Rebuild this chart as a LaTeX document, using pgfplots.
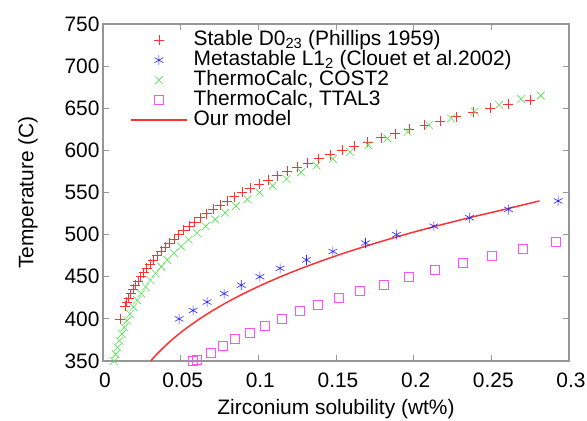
\documentclass[border=0pt]{standalone}
\usepackage{fontspec}
\setmainfont{Liberation Sans}
\usepackage{pgfplots}
\pgfplotsset{compat=1.18}
\definecolor{gpred}{RGB}{255,50,50}
\definecolor{gpblue}{RGB}{40,40,255}
\definecolor{gpgreen}{RGB}{80,225,80}
\definecolor{gpmag}{RGB}{255,80,255}
\definecolor{framegray}{RGB}{150,150,150}

\begin{document}
\begin{tikzpicture}
\useasboundingbox (-103bp,-60bp) rectangle (484bp,361bp);
\begin{axis}[
  at={(0,0)}, anchor=south west,
  scale only axis, width=466bp, height=337bp,
  xmin=0, xmax=0.3, ymin=350, ymax=750,
  xtick={0,0.05,0.1,0.15,0.2,0.25,0.3},
  xticklabels={0,0.05,0.1,0.15,0.2,0.25,0.3},
  ytick={350,400,450,500,550,600,650,700,750},
  tick align=inside,
  axis line style={framegray, line width=1.2pt},
  tick style={framegray, line width=0.8pt},
  major tick length=6bp,
  font=\fontsize{21}{24}\selectfont,
  /pgf/number format/assume math mode=true,
  xticklabel style={yshift=-8bp, xshift=2bp},
  yticklabel style={xshift=0bp},
  xlabel={Zirconium solubility (wt\%)},
  ylabel={Temperature (C)},
  xlabel style={yshift=-5bp},
  ylabel style={yshift=20bp},
  legend cell align=left,
  legend image code/.code={\draw[mark repeat=2, mark phase=2, #1] plot coordinates {(0bp,0bp) (28bp,0bp) (56bp,0bp)};},
  legend style={draw=none, fill=none, at={(0,1)}, anchor=north west, xshift=24bp, yshift=-4bp,
    row sep=0bp, column sep=6bp,
    nodes={inner sep=0pt, text height=15bp, text depth=5bp}},
]
\addplot[only marks, mark=+, mark size=5bp, color=gpred, mark options={draw=gpred, line width=0.6pt}] coordinates {
(0.0109,400) (0.01405,415) (0.01525,420) (0.01651,425) (0.01788,430) (0.01934,435)
(0.02089,440) (0.02252,445) (0.02429,450) (0.02615,455) (0.02811,460) (0.03022,465)
(0.03243,470) (0.03478,475) (0.03727,480) (0.03988,485) (0.04267,490) (0.04558,495)
(0.04866,500) (0.05194,505) (0.05536,510) (0.05896,515) (0.06273,520) (0.06671,525)
(0.07088,530) (0.07525,535) (0.07983,540) (0.08463,545) (0.08963,550) (0.09494,555)
(0.1004,560) (0.1062,565) (0.1122,570) (0.1185,575) (0.1250,580) (0.1318,585)
(0.1389,590) (0.1463,595) (0.1539,600) (0.1619,605) (0.1703,610) (0.1790,615)
(0.1880,620) (0.1973,625) (0.2070,630) (0.2171,635) (0.2274,640) (0.2383,645)
(0.2494,650) (0.2609,655) (0.2750,660)
};
\addlegendentry{Stable D0\textsubscript{23} (Phillips 1959)}
\addplot[only marks, mark=asterisk, mark size=5bp, color=gpblue, mark options={draw=gpblue, line width=0.6pt}] coordinates {
(0.049,400) (0.058,410) (0.067,420) (0.078,430) (0.089,440) (0.101,450) (0.114,460)
(0.131,470) (0.148,480) (0.169,490) (0.189,500) (0.213,510) (0.236,520) (0.261,530)
(0.293,540)
};
\addlegendentry{Metastable L1\textsubscript{2} (Clouet et al.2002)}
\addplot[only marks, mark=x, mark size=5.5bp, color=gpgreen, mark options={draw=gpgreen, line width=0.6pt}] coordinates {
(0.0071,350) (0.00815,358) (0.00933,366) (0.01064,374) (0.0121,382) (0.01371,390)
(0.0155,398) (0.01746,406) (0.01963,414) (0.022,422) (0.02458,430) (0.02741,438)
(0.0305,446) (0.03385,454) (0.03749,462) (0.0414,470) (0.04563,478) (0.05022,486)
(0.05512,494) (0.06043,502) (0.06611,510) (0.07218,518) (0.07864,526) (0.08556,534)
(0.09297,542) (0.1008,550) (0.1092,558) (0.1181,566) (0.1275,574) (0.1374,582)
(0.148,590) (0.159,598) (0.1707,606) (0.1831,614) (0.1961,622) (0.2098,630)
(0.2241,638) (0.2392,646) (0.255,654) (0.2693,661) (0.2818,665)
};
\addlegendentry{ThermoCalc, COST2}
\addplot[only marks, mark=square, mark size=4.5bp, color=gpmag, mark options={draw=gpmag, line width=0.6pt}] coordinates {
(0.0580,350) (0.0607,351) (0.0693,360) (0.0771,368) (0.0850,376) (0.0947,384)
(0.1043,392) (0.1151,400) (0.1269,409) (0.1386,417) (0.1515,425) (0.1655,433)
(0.1809,441) (0.1966,450) (0.2133,458) (0.2314,466) (0.2503,475) (0.2702,483)
(0.2913,491)
};
\addlegendentry{ThermoCalc, TTAL3}
\addplot[smooth, color=gpred, line width=1.5bp, no marks] coordinates {
(0.0307,350) (0.0331,355) (0.03566,360) (0.04126,370) (0.0475,380) (0.05447,390)
(0.0622,400) (0.07077,410) (0.08019,420) (0.09054,430) (0.1019,440) (0.1143,450)
(0.1278,460) (0.1425,470) (0.1585,480) (0.1757,490) (0.1942,500) (0.2142,510)
(0.2357,520) (0.2586,530) (0.2810,540)
};
\addlegendentry{Our model}
\end{axis}
\end{tikzpicture}
\end{document}
